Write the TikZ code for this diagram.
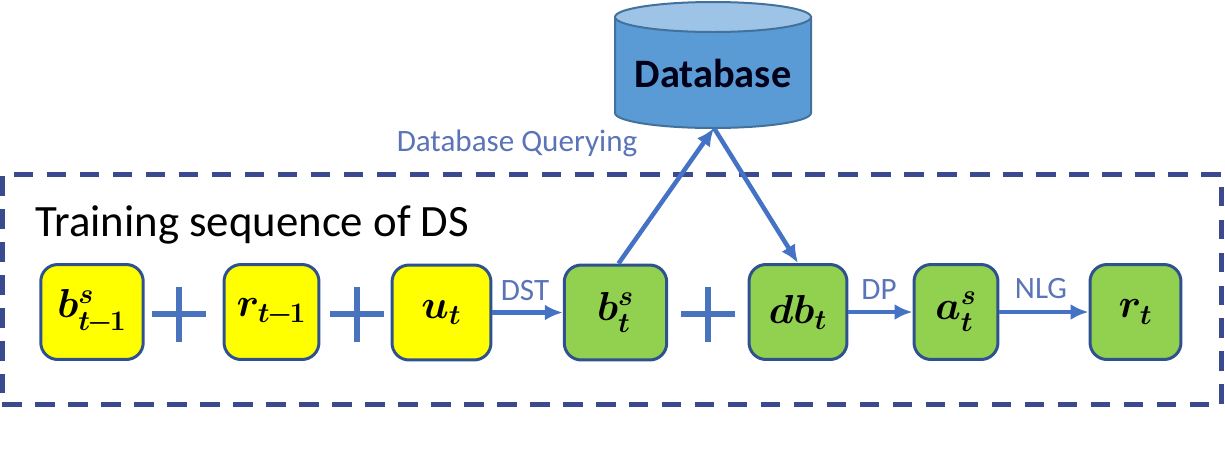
\documentclass[tikz,border=0pt]{standalone}
\usepackage{fix-cm}
\usepackage{amsmath}
\usepackage{fontspec}
\setmainfont{Carlito}
\usepackage{xcolor}
\usetikzlibrary{arrows.meta}
\tikzset{>={Latex[length=0.36cm, width=0.32cm]}}
\definecolor{myblue}{HTML}{4472C4}
\definecolor{labelcol}{HTML}{5B74B8}
\definecolor{framecol}{HTML}{3B4A8F}
\definecolor{edgecol}{HTML}{2F528F}
\definecolor{inputcol}{HTML}{FFFF00}
\definecolor{outputcol}{HTML}{92D050}
\definecolor{dbcol}{HTML}{5B9BD5}
\definecolor{dbtop}{HTML}{9DC3E6}
\definecolor{dbedge}{HTML}{41719C}
\newcommand{\tminus}{t\mkern-1.5mu-\mkern-1.5mu1}
\tikzset{
    box/.style={draw=edgecol, line width=0.06cm, rounded corners=0.34cm, minimum height=1.9cm, inner sep=0pt, font=\fontsize{23}{27}\selectfont},
    flow/.style={myblue, line width=0.09cm, ->},
    plusline/.style={myblue!90!gray, line width=0.11cm},
    steplabel/.style={labelcol, inner sep=0pt, font=\fontsize{17.7}{21}\selectfont},
    dbshape/.style={draw=dbedge, line width=0.04cm},
}

\begin{document}
\begin{tikzpicture}[x=0.02cm, y=-0.02cm]
    \useasboundingbox (0, 0) rectangle (1225, 454);

    \node [draw=framecol, line width=0.1cm, dash pattern=on 0.39cm off 0.27cm, minimum width=24.4cm, minimum height=4.62cm, inner sep=0pt, outer sep=0pt] (frame) at (612, 289.5) {};
    \node [anchor=west, inner sep=0pt, font=\fontsize{25.5}{30}\selectfont] (title) at (35, 225) {Training sequence of DS};

    % database drum
    \filldraw [dbshape, fill=dbcol] (615, 17) -- (615, 113) arc [x radius=98, y radius=15, start angle=180, end angle=0] -- (811, 17) -- cycle;
    \filldraw [dbshape, fill=dbtop] (713, 17) ellipse [x radius=98, y radius=15];
    \node [inner sep=0pt, font=\fontsize{23}{27}\selectfont\bfseries, text=black!90!blue] (database) at (713, 73) {Database};
    \coordinate (dbfoot) at (714, 128);

    \node [box, fill=inputcol, minimum width=2.05cm] (bprev) at (92, 312) {$\boldsymbol{b_{\tminus}^{s}}$};
    \node [box, fill=inputcol, minimum width=1.9cm] (rprev) at (271.5, 312) {$\boldsymbol{r_{\tminus}}$};
    \node [box, fill=inputcol, minimum width=1.98cm] (ut) at (441.5, 312.5) {$\boldsymbol{u_{t}}$};
    \node [box, fill=outputcol, minimum width=2.05cm] (bt) at (615.5, 312.5) {$\boldsymbol{b_{t}^{s}}$};
    \node [box, fill=outputcol, minimum width=1.96cm] (dbt) at (798, 312) {$\boldsymbol{db_{t}}$};
    \node [box, fill=outputcol, minimum width=1.68cm] (at) at (956, 312) {$\boldsymbol{a_{t}^{s}}$};
    \node [box, fill=outputcol, minimum width=1.82cm] (rt) at (1135.5, 312) {$\boldsymbol{r_{t}}$};

    % plus signs between the boxes
    \foreach \x in {179, 357, 708}
    {
        \draw [plusline] (\x-27, 314) -- (\x+27, 314);
        \draw [plusline] (\x, 287) -- (\x, 342);
    }

    \draw [flow] (ut) -- (bt);
    \draw [flow] (dbt) -- (at);
    \draw [flow] (at) -- (rt);
    \draw [flow] ([xshift=0.06cm]bt.north) -- (dbfoot);
    \draw [flow] (dbfoot) -- (dbt.north);

    \node [steplabel] (dst) at (525, 291) {DST};
    \node [steplabel] (dp) at (879, 290) {DP};
    \node [steplabel] (nlg) at (1041, 289) {NLG};
    \node [steplabel] (query) at (517, 143) {Database Querying};
\end{tikzpicture}
\end{document}
